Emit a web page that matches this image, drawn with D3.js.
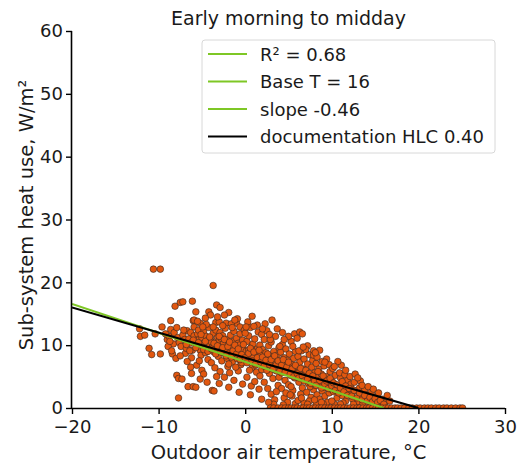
<!DOCTYPE html>
<html>
<head>
<meta charset="utf-8">
<script src="https://cdn.jsdelivr.net/npm/d3@7"></script>
<style>
  html, body { margin: 0; padding: 0; background: #fff; }
  svg { display: block; }
  text { font-family: "DejaVu Sans", sans-serif; fill: #1a1a1a; }
</style>
</head>
<body>
<svg id="chart" width="521" height="466"></svg>
<script>
// Hourly readings: outdoor temperature (°C) and sub-system heat use (W/m²)
const temps = [
  -12.2,-12.1,-11.6,-10.4,-11.1,-10.8,-9.8,-10.6,-9.8,-9.6,
  -8.6,-8.6,-8.1,-9.0,-8.8,-8.3,-8.9,-8.4,-8.0,-8.7,-9.2,-8.2,-7.9,-7.7,-7.7,-8.5,
  -7.5,-7.2,-6.1,-6.7,-6.0,-5.9,-7.3,-6.6,-6.0,-6.2,-7.8,-7.6,-7.4,-7.2,-7.0,-6.9,-6.8,-6.5,-6.4,-6.3,-6.2,-6.1,-7.1,-7.9,-6.7,-7.5,
  -5.7,-5.2,-5.7,-4.2,-4.0,-5.9,-5.8,-5.6,-5.5,-5.4,-5.3,-5.2,-5.1,-5.0,-4.9,-4.8,-4.7,-4.6,-4.5,-4.4,-4.3,-4.2,-4.1,-5.6,-5.0,-4.5,-5.3,-4.8,-4.4,-4.0,-5.9,-4.9,
  -3.7,-3.3,-2.9,-3.4,-3.0,-2.2,-3.8,-3.6,-3.9,-3.8,-3.7,-3.6,-3.5,-3.4,-3.3,-3.2,-3.1,-3.0,-2.9,-2.8,-2.7,-2.6,-2.5,-2.4,-2.3,-2.2,-2.1,-2.0,-3.9,-3.5,-2.9,-2.4,-3.2,-2.6,-2.1,-3.7,-2.8,-3.0,
  -1.9,-1.0,-0.6,-1.9,-1.8,-1.7,-1.6,-1.5,-1.4,-1.3,-1.2,-1.1,-1.0,-0.9,-0.8,-0.7,-0.6,-0.5,-0.4,-0.3,-0.2,-0.1,-1.8,-1.3,-0.8,-0.3,-1.6,-0.9,-0.4,-1.5,-0.7,-1.1,-0.2,-1.9,
  0.1,0.2,0.3,0.4,0.5,0.6,0.7,0.8,0.9,1.0,1.1,1.2,1.3,1.4,1.5,1.6,1.7,1.8,1.9,0.3,0.8,1.4,0.2,0.7,1.1,1.6,1.9,0.5,1.2,0.0,1.7,0.9,0.4,
  2.0,2.1,2.2,2.3,2.4,2.5,2.6,2.7,2.8,2.9,3.0,3.1,3.2,3.3,3.4,3.5,3.6,3.7,3.8,3.9,2.3,3.1,3.7,2.6,3.0,3.4,3.8,2.2,3.3,2.5,3.9,2.9,3.5,
  4.0,4.1,4.2,4.3,4.4,4.5,4.6,4.7,4.8,4.9,5.0,5.1,5.2,5.3,5.4,5.5,5.6,5.7,5.8,5.9,4.3,5.0,5.7,4.5,4.9,5.4,5.8,4.2,6.0,4.7,5.3,4.0,5.6,
  6.0,6.1,6.2,6.3,6.4,6.5,6.6,6.7,6.8,6.9,7.0,7.1,7.2,7.3,7.4,7.5,7.6,7.7,7.8,7.9,6.3,6.6,7.2,6.1,6.8,7.4,6.4,7.0,7.8,6.9,7.5,7.9,7.9,6.2,
  8.0,8.1,8.2,8.3,8.4,8.5,8.6,8.7,8.8,8.9,9.0,9.1,9.2,9.3,9.4,9.5,9.6,9.7,9.8,9.9,8.3,8.9,9.7,8.2,9.0,8.6,9.4,
  10.0,10.2,10.4,10.6,10.8,11.0,11.2,11.4,11.6,11.8,10.1,10.5,10.9,11.3,11.7,10.3,11.1,11.9,10.7,11.5,
  12.0,12.2,12.4,12.6,12.8,13.0,13.2,13.4,13.6,13.8,12.1,12.7,13.3,13.9,12.5,12.3,13.5,
  14.0,14.3,14.6,14.9,15.2,15.5,15.8,16.1,14.2,14.8,15.4,16.4,16.7,15.0,14.5,
  -6.8,-6.4,-6.0,-5.7,-5.4,-5.1,-4.8,-4.6,-4.3,-4.1,-3.9,-3.6,-3.4,-3.2,-3.0,-2.8,-2.6,-2.4,-2.2,-2.0,
  -1.8,-1.6,-1.4,-1.2,-1.0,-0.8,-0.6,-0.4,-0.2,0.0,0.2,0.4,0.6,0.8,1.0,1.2,1.4,1.6,1.8,2.0,
  2.2,2.4,2.6,2.8,3.0,3.2,3.4,3.6,3.8,4.0,4.2,4.4,4.6,4.8,5.0,5.2,5.4,5.6,5.8,6.0,
  6.2,6.4,6.6,6.8,7.0,7.2,7.4,7.6,7.8,8.0,8.2,8.4,8.6,8.8,9.0,9.2,9.4,9.6,9.8,10.0,
  10.2,10.4,10.6,10.8,11.0,11.2,11.4,11.6,11.8,12.0,12.3,12.6,12.9,13.2,13.5,13.8,14.1,14.4,14.7,15.0,
  15.3,15.6,16.0,
  -5.5,-4.6,-2.4,-1.2,0.1,1.0,2.0,2.8,4.5,5.5,6.7,8.1,9.2,10.3,11.6,13.0,
  -6.3,-5.2,-3.3,-1.9,-0.7,0.6,1.9,2.7,3.6,4.4,5.2,6.5,7.2,8.0,8.8,10.0,11.0,
  2.9,3.3,3.8,4.2,4.6,5.0,5.3,5.7,6.0,6.4,6.7,7.1,7.4,7.8,8.1,8.5,8.8,9.2,9.6,9.9,
  10.3,10.7,11.0,11.4,11.8,12.1,12.5,12.9,13.2,13.6,14.0,14.3,14.7,15.1,15.4,15.8,16.2,16.5,16.9,17.3,
  17.6,18.0,18.4,18.9,19.3,19.8,20.2,20.7,21.1,21.5,22.0,22.4,22.9,23.3,23.8,24.3,24.8,25.1
];
const heatUse = [
  12.6,11.4,11.6,11.8,9.5,8.5,8.6,22.1,22.1,12.9,
  13.9,12.5,16.2,10.9,11.4,10.2,9.8,8.6,7.9,10.6,11.8,12.0,5.2,4.7,1.6,9.1,
  16.8,16.9,17.0,12.3,13.9,12.9,4.6,3.4,3.4,5.5,11.2,10.4,9.8,11.6,10.9,8.7,9.5,11.0,10.3,12.0,8.0,9.2,12.4,12.8,7.4,8.3,
  15.3,13.5,3.3,15.3,14.8,11.5,10.6,9.9,11.8,12.4,10.9,9.2,8.4,11.2,10.2,12.1,9.6,8.8,11.4,10.7,7.7,12.8,9.9,6.8,6.0,13.3,7.5,5.4,4.1,11.0,14.0,12.9,
  19.5,16.4,16.0,13.6,13.7,13.5,2.8,2.7,10.5,9.7,11.9,8.9,10.1,12.4,9.3,11.2,8.2,10.8,12.0,9.8,7.5,11.5,10.4,8.7,12.7,9.4,10.9,6.6,7.2,6.4,5.8,4.9,14.5,13.1,7.9,12.9,11.1,3.9,
  15.2,13.5,12.9,10.2,8.8,11.6,9.5,7.3,10.6,12.2,8.4,9.9,11.1,7.8,10.3,8.9,11.8,6.9,9.6,10.8,8.1,12.4,5.6,4.4,5.9,3.8,13.4,14.2,7.2,12.8,10.0,6.5,9.3,7.0,
  9.0,10.6,7.6,11.5,8.3,12.8,9.7,6.4,10.2,7.9,11.0,8.7,5.7,9.4,12.1,7.1,10.0,8.5,6.1,13.7,14.6,13.2,4.9,3.5,4.2,3.0,11.7,6.0,6.8,11.9,5.1,8.0,9.2,
  9.3,7.4,10.9,6.6,8.8,12.3,7.7,9.9,5.5,8.2,10.5,6.9,4.7,9.0,7.3,11.4,5.9,8.4,6.3,9.6,13.4,14.0,12.6,3.1,2.2,1.3,3.6,4.1,0.6,6.0,4.9,10.9,7.8,
  7.2,8.9,5.6,10.1,6.8,8.0,4.4,9.4,6.1,7.6,3.7,8.6,5.2,10.6,6.9,2.8,7.9,4.8,9.0,5.9,12.0,11.4,11.8,1.6,0.9,1.9,0.7,3.1,11.1,2.4,3.4,9.8,6.4,
  6.6,8.2,4.1,7.3,5.3,9.1,3.2,6.2,7.8,4.6,5.8,2.5,7.0,3.9,8.5,5.1,1.7,6.5,4.3,2.9,12.1,11.8,9.9,1.2,0.8,1.1,2.2,9.3,7.6,5.1,3.4,9.1,8.4,9.1,
  5.6,3.6,7.1,2.1,4.9,6.2,1.4,3.9,5.4,2.7,4.5,6.7,1.9,3.3,5.0,0.9,4.0,2.4,5.8,3.0,8.1,7.4,6.9,0.6,0.7,9.2,7.8,
  4.3,2.6,5.2,1.6,3.5,4.8,2.0,3.9,1.1,4.4,6.3,3.1,5.6,0.8,2.9,0.6,6.8,3.3,7.4,5.3,
  2.3,3.8,1.4,4.1,2.7,1.0,3.2,2.0,0.7,2.9,5.0,5.4,4.3,1.5,0.6,3.0,3.6,
  2.1,1.2,2.6,0.9,1.8,0.6,1.4,0.8,3.4,3.0,2.4,2.0,1.1,0.5,0.7,
  10.1,9.1,10.8,9.6,10.4,11.7,9.3,10.6,9.0,11.3,9.4,10.3,8.6,9.9,11.4,8.9,9.6,10.9,8.3,9.8,
  10.5,8.1,9.1,10.0,8.6,9.4,7.7,8.5,10.1,8.0,7.2,8.7,9.5,7.5,8.9,7.0,8.0,9.2,7.3,8.1,
  6.7,7.6,8.6,6.9,7.7,6.2,8.3,6.9,7.5,5.9,6.8,7.7,5.7,6.5,7.3,5.4,6.2,5.0,6.8,5.5,
  4.8,6.3,5.1,4.3,6.0,4.6,5.5,3.9,5.1,4.3,3.6,5.8,4.4,3.2,5.1,3.8,4.3,3.1,4.7,3.5,
  4.0,2.8,3.7,2.4,3.2,4.2,2.6,3.5,2.0,3.1,1.9,2.8,1.6,2.4,1.3,2.0,1.1,1.7,1.0,1.5,
  0.9,1.2,0.6,
  13.8,14.3,14.8,14.0,12.9,13.0,12.6,11.7,10.9,9.8,9.7,8.8,7.3,6.6,6.0,4.8,
  6.5,4.6,5.0,3.3,2.5,2.1,1.4,0.9,2.6,0.5,2.1,1.6,0.6,1.3,0.9,1.1,0.6,
  0,0,0,0,0,0,0,0,0,0,0,0,0,0,0,0,0,0,0,0,
  0,0,0,0,0,0,0,0,0,0,0,0,0,0,0,0,0,0,0,0,
  0,0,0,0,0,0,0,0,0,0,0,0,0,0,0,0,0,0
];

// Regression fit and documented heat-loss coefficient
const fitSlope = -0.46;
const fitBaseT = 16;
const fitR2 = 0.68;
const docHLC = 0.40;
const docBaseT = 20;

const xTicks = [-20, -10, 0, 10, 20, 30];
const yTicks = [0, 10, 20, 30, 40, 50, 60];
const legendLabels = ["R² = 0.68", "Base T = 16", "slope -0.46", "documentation HLC 0.40"];

const green = "#7ec725";
const dotFill = "#e2570f";

const svg = d3.select("#chart");
const margin = { left: 72, right: 16, top: 31, bottom: 58 };
const W = 521, H = 466;

const x = d3.scaleLinear().domain([-20, 30]).range([margin.left, W - margin.right]);
const y = d3.scaleLinear().domain([0, 60]).range([H - margin.bottom, margin.top]);

svg.append("defs").append("clipPath").attr("id", "plotArea")
  .append("rect")
  .attr("x", x(-20)).attr("y", y(60))
  .attr("width", x(30) - x(-20)).attr("height", y(0) - y(60));

const plot = svg.append("g").attr("clip-path", "url(#plotArea)");

// Scatter of readings
plot.append("g").selectAll("circle")
  .data(d3.zip(temps, heatUse))
  .join("circle")
  .attr("cx", d => x(d[0]))
  .attr("cy", d => y(d[1]))
  .attr("r", 3.3)
  .attr("fill", dotFill)
  .attr("stroke", "#3a2a22")
  .attr("stroke-opacity", 0.8)
  .attr("stroke-width", 0.8);

// Fitted line: heat = -slope * (baseT - T), down to zero at base temperature
const fitLine = [-20, fitBaseT].map(t => [t, fitSlope * (t - fitBaseT)]);
const docLine = [-20, docBaseT].map(t => [t, docHLC * (docBaseT - t)]);
const line = d3.line().x(d => x(d[0])).y(d => y(d[1]));

plot.append("path").attr("d", line(fitLine))
  .attr("fill", "none").attr("stroke", green).attr("stroke-width", 2.2);
plot.append("path").attr("d", line(docLine))
  .attr("fill", "none").attr("stroke", "#000").attr("stroke-width", 2.2);

// Axes (left and bottom spines only)
const xAxis = svg.append("g")
  .attr("transform", `translate(0,${y(0)})`)
  .call(d3.axisBottom(x).tickValues(xTicks).tickSize(6).tickPadding(6)
    .tickFormat(d => d < 0 ? "\u2212" + Math.abs(d) : d));
const yAxis = svg.append("g")
  .attr("transform", `translate(${x(-20)},0)`)
  .call(d3.axisLeft(y).tickValues(yTicks).tickSize(6).tickPadding(3));

[xAxis, yAxis].forEach(g => {
  g.select(".domain").attr("stroke", "#000").attr("stroke-width", 1.6);
  g.selectAll(".tick line").attr("stroke", "#000").attr("stroke-width", 1.4);
  g.selectAll(".tick text").attr("font-size", 18).attr("fill", "#1a1a1a")
    .style("font-family", "DejaVu Sans, sans-serif");
});
xAxis.select(".domain").attr("d", `M${x(-20)},0.5H${x(30)}`);
yAxis.select(".domain").attr("d", `M-0.5,${y(0)}V${y(60)}`);

// Titles
svg.append("text")
  .attr("x", (x(-20) + x(30)) / 2).attr("y", 25)
  .attr("text-anchor", "middle").attr("font-size", 19)
  .text("Early morning to midday");

svg.append("text")
  .attr("x", (x(-20) + x(30)) / 2).attr("y", 459)
  .attr("text-anchor", "middle").attr("font-size", 19.5)
  .text("Outdoor air temperature, °C");

svg.append("text")
  .attr("transform", `translate(33,215) rotate(-90)`)
  .attr("text-anchor", "middle").attr("font-size", 19.5)
  .text("Sub-system heat use, W/m²");

// Legend
const legend = svg.append("g");
legend.append("rect")
  .attr("x", 202).attr("y", 40).attr("width", 293).attr("height", 113)
  .attr("rx", 3).attr("fill", "#fff").attr("fill-opacity", 0.85)
  .attr("stroke", "#d8d8d8").attr("stroke-width", 1);
const legendColors = [green, green, green, "#000"];
legendLabels.forEach((lab, i) => {
  const ly = 54 + i * 27.5;
  legend.append("line")
    .attr("x1", 208).attr("x2", 247).attr("y1", ly).attr("y2", ly)
    .attr("stroke", legendColors[i]).attr("stroke-width", 2);
  legend.append("text")
    .attr("x", 260).attr("y", ly + 6.5)
    .attr("font-size", 18)
    .text(lab);
});
</script>
</body>
</html>
